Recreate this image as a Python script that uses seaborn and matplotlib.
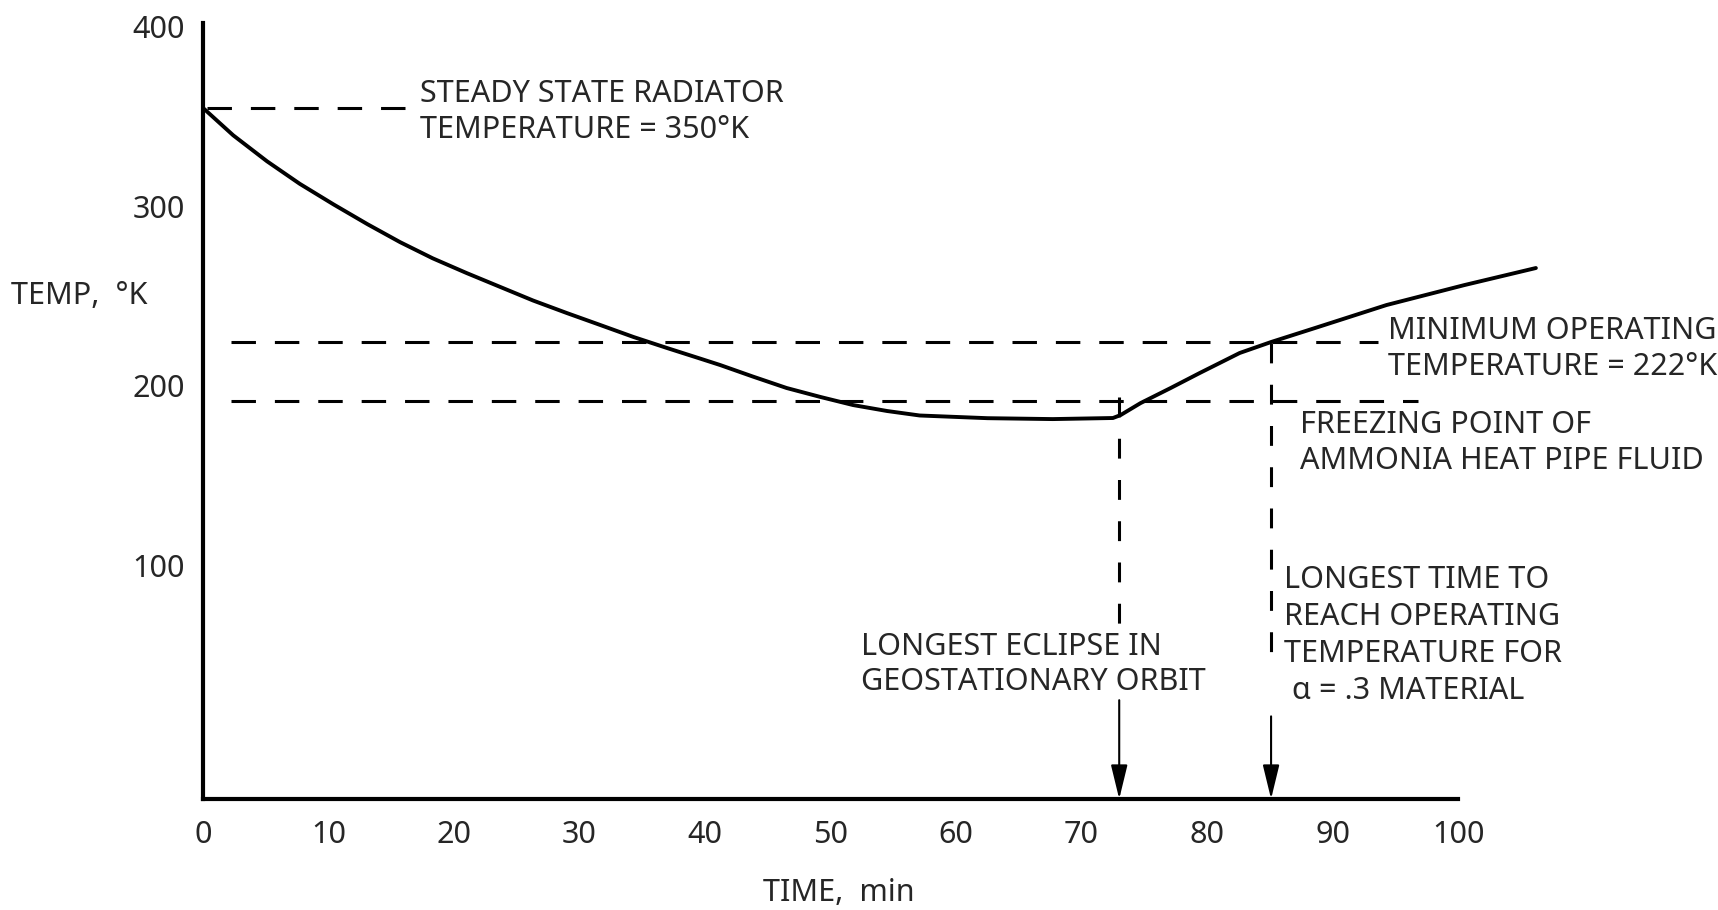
import matplotlib
matplotlib.use("Agg")
import matplotlib.pyplot as plt
import seaborn as sns
import pandas as pd


# Values
time_min = [0.0, 2.4, 5.1, 7.7, 10.4, 13.1, 15.7, 18.3, 21.0, 23.7, 26.3,
            29.0, 31.6, 34.3, 37.0, 39.6, 41.2, 43.8, 46.5, 49.2, 51.8,
            54.5, 57.1, 62.5, 67.7, 72.5, 73.1, 74.7, 77.1, 79.4, 82.6,
            85.1, 88.6, 94.3, 100.5, 106.2]
temp_k = [354.7, 339.5, 325.0, 312.5, 301.0, 290.0, 280.0, 271.0, 262.8,
          255.0, 247.5, 240.5, 234.0, 227.2, 221.0, 215.2, 211.6, 205.2,
          198.8, 193.8, 189.3, 186.0, 183.5, 182.0, 181.5, 182.1, 183.7,
          190.4, 198.8, 207.1, 218.3, 224.4, 232.2, 245.0, 256.1, 265.6]

steady_temp = 354.7
min_operating_temp = 224.4
freezing_temp = 191.5
eclipse_time = 73.0
reach_time = 85.1

x_ticks = [0, 10, 20, 30, 40, 50, 60, 70, 80, 90, 100]
y_ticks = [100, 200, 300, 400]

df = pd.DataFrame({"time": time_min, "temp": temp_k})


sns.set_style("white")
plt.rcParams["font.family"] = ["Noto Sans Condensed", "Noto Sans"]
plt.rcParams["font.stretch"] = "condensed"

fig = plt.figure(figsize=(17.18, 9.10), dpi=100)
ax = fig.add_axes([0.1182, 0.1220, 0.7305, 0.8527])

# main curve
sns.lineplot(data=df, x="time", y="temp", ax=ax, color="black",
             linewidth=2.8, clip_on=False)

dash_h = (0, (8, 6.2))
dash_v = (0, (6.5, 7))

# horizontal reference lines
ax.plot([0.3, 16.2], [steady_temp, steady_temp], color="black",
        lw=2.2, linestyle=dash_h, clip_on=False)
ax.plot([2.2, 93.6], [min_operating_temp, min_operating_temp],
        color="black", lw=2.2, linestyle=dash_h, clip_on=False)
ax.plot([2.2, 96.8], [freezing_temp, freezing_temp], color="black",
        lw=2.2, linestyle=dash_h, clip_on=False)

# vertical markers
ax.plot([eclipse_time, eclipse_time], [193.8, 65.7], color="black",
        lw=2.2, linestyle=dash_v)
ax.plot([reach_time, reach_time], [224.0, 47.3], color="black",
        lw=2.2, linestyle=dash_v)

arrow = dict(arrowstyle="-|>,head_length=0.7,head_width=0.17",
             color="black", lw=1.5, mutation_scale=30,
             shrinkA=0, shrinkB=0)
ax.annotate("", xy=(eclipse_time, -30), xytext=(eclipse_time, 25),
            arrowprops=arrow, annotation_clip=False)
ax.annotate("", xy=(reach_time, -30), xytext=(reach_time, 16),
            arrowprops=arrow, annotation_clip=False)

# labels on the chart
fs = 22
ax.text(17.3, 352.5, "STEADY STATE RADIATOR\nTEMPERATURE = 350°K",
        fontsize=fs, ha="left", va="center", linespacing=1.25,
        clip_on=False)
ax.text(94.4, 220.5, "MINIMUM OPERATING\nTEMPERATURE = 222°K",
        fontsize=fs, ha="left", va="center", linespacing=1.25,
        clip_on=False)
ax.text(87.4, 168.0, "FREEZING POINT OF\nAMMONIA HEAT PIPE FLUID",
        fontsize=fs, ha="left", va="center", linespacing=1.25,
        clip_on=False)
ax.text(52.4, 44.8, "LONGEST ECLIPSE IN\nGEOSTATIONARY ORBIT",
        fontsize=fs, ha="left", va="center", linespacing=1.25)
ax.text(86.1, 61.2,
        "LONGEST TIME TO\nREACH OPERATING\nTEMPERATURE FOR\n α = .3 MATERIAL",
        fontsize=fs, ha="left", va="center", linespacing=1.3)

# axes styling
ax.set_xlim(0, 100)
ax.set_ylim(-30, 402)
ax.set_xticks(x_ticks)
ax.set_yticks(y_ticks)
ax.tick_params(axis="x", direction="in", length=16.5, width=1.8,
               pad=15, labelsize=fs)
ax.tick_params(axis="y", direction="in", length=14, width=1.8,
               pad=13, labelsize=fs)

for side in ["top", "right"]:
    ax.spines[side].set_visible(False)
for side in ["left", "bottom"]:
    ax.spines[side].set_linewidth(3)
    ax.spines[side].set_color("black")

ax.set_xlabel("")
ax.set_ylabel("")
fig.text(0.0064, 0.675, "TEMP,  °K", fontsize=fs, ha="left", va="center")
fig.text(0.488, 0.019, "TIME,  min", fontsize=fs, ha="center", va="center")

fig.savefig("out.png", dpi=100, facecolor="white")
